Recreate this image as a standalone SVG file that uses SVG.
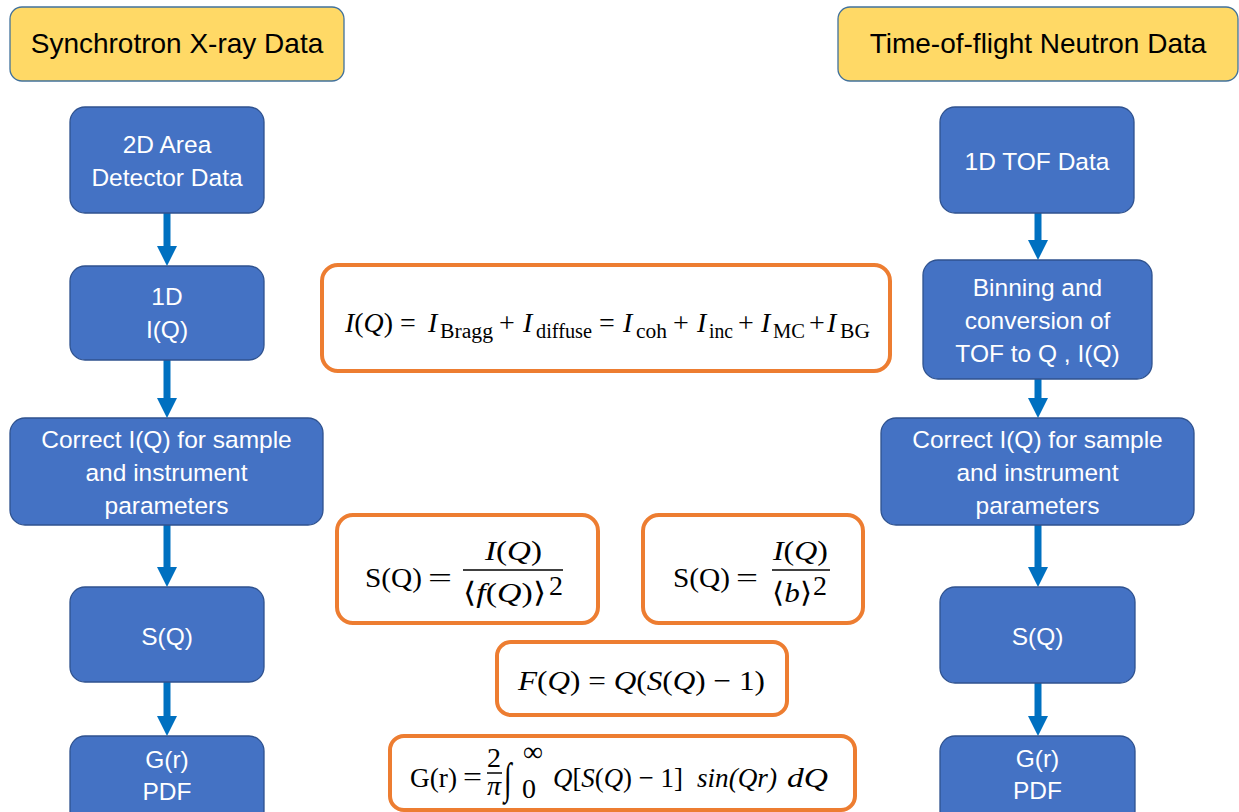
<svg xmlns="http://www.w3.org/2000/svg" width="1239" height="812" viewBox="0 0 1239 812">
<style>
.hdr{fill:#FFD966;stroke:#41719C;stroke-width:1.3}
.hdrt{font-family:"Liberation Sans",Arial,sans-serif;font-size:28px;fill:#000;text-anchor:middle}
.blk{fill:#4472C4;stroke:#2F528F;stroke-width:1.3}
.blkt{font-family:"Liberation Sans",Arial,sans-serif;font-size:24.5px;fill:#fff;text-anchor:middle}
.eq{fill:#fff;stroke:#ED7D31;stroke-width:4}
.m{font-family:"Liberation Serif","Times New Roman",serif;font-size:28px;fill:#000}
.sub{font-size:20.5px;font-style:normal}
.it{font-style:italic}
.bar{stroke:#000;stroke-width:1.5}
.conn{stroke:#0070C0;stroke-width:7;fill:none}
</style>
<defs>
<marker id="ah" viewBox="0 0 20 20" refX="10" refY="10" markerWidth="20" markerHeight="20" markerUnits="userSpaceOnUse" orient="auto">
<path d="M0,0 L20,10 L0,20 z" fill="#0070C0"/>
</marker>
</defs>

<g id="connectors">
<line class="conn" x1="167" y1="213" x2="167" y2="256" marker-end="url(#ah)"/>
<line class="conn" x1="167" y1="360" x2="167" y2="408" marker-end="url(#ah)"/>
<line class="conn" x1="167" y1="525" x2="167" y2="577" marker-end="url(#ah)"/>
<line class="conn" x1="167" y1="682" x2="167" y2="726" marker-end="url(#ah)"/>
<line class="conn" x1="1038" y1="213" x2="1038" y2="250" marker-end="url(#ah)"/>
<line class="conn" x1="1038" y1="379" x2="1038" y2="408" marker-end="url(#ah)"/>
<line class="conn" x1="1038" y1="525" x2="1038" y2="577" marker-end="url(#ah)"/>
<line class="conn" x1="1038" y1="683" x2="1038" y2="726" marker-end="url(#ah)"/>
</g>

<g id="hdr-xray">
<rect class="hdr" x="10" y="7" width="334" height="74" rx="12"/>
<text class="hdrt" x="177" y="53">Synchrotron X-ray Data</text>
</g>
<g id="hdr-neutron">
<rect class="hdr" x="838" y="7" width="400" height="74" rx="12"/>
<text class="hdrt" x="1038" y="53">Time-of-flight Neutron Data</text>
</g>

<g id="x-2d">
<rect class="blk" x="70" y="107" width="194" height="106" rx="15"/>
<text class="blkt" x="167" y="153">2D Area</text>
<text class="blkt" x="167" y="186">Detector Data</text>
</g>
<g id="x-1d">
<rect class="blk" x="70" y="266" width="194" height="94" rx="15"/>
<text class="blkt" x="167" y="305">1D</text>
<text class="blkt" x="167" y="338">I(Q)</text>
</g>
<g id="x-correct">
<rect class="blk" x="10" y="418" width="313" height="107" rx="15"/>
<text class="blkt" x="166.5" y="448">Correct I(Q) for sample</text>
<text class="blkt" x="166.5" y="481">and instrument</text>
<text class="blkt" x="166.5" y="514">parameters</text>
</g>
<g id="x-sq">
<rect class="blk" x="70" y="587" width="194" height="95" rx="15"/>
<text class="blkt" x="167" y="645">S(Q)</text>
</g>
<g id="x-gr">
<rect class="blk" x="70" y="736" width="194" height="90" rx="15"/>
<text class="blkt" x="167" y="768">G(r)</text>
<text class="blkt" x="167" y="800">PDF</text>
</g>

<g id="n-tof">
<rect class="blk" x="940" y="107" width="194" height="106" rx="15"/>
<text class="blkt" x="1037" y="170">1D TOF Data</text>
</g>
<g id="n-bin">
<rect class="blk" x="923" y="260" width="229" height="119" rx="15"/>
<text class="blkt" x="1037.5" y="296">Binning and</text>
<text class="blkt" x="1037.5" y="329">conversion of</text>
<text class="blkt" x="1037.5" y="362">TOF to Q , I(Q)</text>
</g>
<g id="n-correct">
<rect class="blk" x="881" y="418" width="313" height="107" rx="15"/>
<text class="blkt" x="1037.5" y="448">Correct I(Q) for sample</text>
<text class="blkt" x="1037.5" y="481">and instrument</text>
<text class="blkt" x="1037.5" y="514">parameters</text>
</g>
<g id="n-sq">
<rect class="blk" x="940" y="587" width="195" height="96" rx="15"/>
<text class="blkt" x="1037.5" y="645">S(Q)</text>
</g>
<g id="n-gr">
<rect class="blk" x="940" y="736" width="195" height="90" rx="15"/>
<text class="blkt" x="1037.5" y="767">G(r)</text>
<text class="blkt" x="1037.5" y="799">PDF</text>
</g>

<g id="eq-intensity">
<rect class="eq" x="322" y="265" width="568" height="106" rx="16"/>
<text class="m" x="345" y="332" textLength="48" lengthAdjust="spacingAndGlyphs"><tspan class="it">I</tspan>(<tspan class="it">Q</tspan>)</text>
<text class="m" x="400" y="332">=</text>
<text class="m it" x="428" y="332">I</text>
<text class="m sub" x="440" y="338" textLength="53" lengthAdjust="spacingAndGlyphs">Bragg</text>
<text class="m" x="499" y="332">+</text>
<text class="m it" x="523" y="332">I</text>
<text class="m sub" x="536" y="338" textLength="56" lengthAdjust="spacingAndGlyphs">diffuse</text>
<text class="m" x="599" y="332">=</text>
<text class="m it" x="623" y="332">I</text>
<text class="m sub" x="636" y="338" textLength="31" lengthAdjust="spacingAndGlyphs">coh</text>
<text class="m" x="673" y="332">+</text>
<text class="m it" x="697" y="332">I</text>
<text class="m sub" x="709" y="338" textLength="24" lengthAdjust="spacingAndGlyphs">inc</text>
<text class="m" x="738" y="332">+</text>
<text class="m it" x="761" y="332">I</text>
<text class="m sub" x="773" y="338" textLength="32" lengthAdjust="spacingAndGlyphs">MC</text>
<text class="m" x="809" y="332">+</text>
<text class="m it" x="827" y="332">I</text>
<text class="m sub" x="840" y="338" textLength="30" lengthAdjust="spacingAndGlyphs">BG</text>
</g>

<g id="eq-sq-xray">
<rect class="eq" x="337" y="515" width="261" height="108" rx="16"/>
<text class="m" x="365" y="587" font-size="29" textLength="57" lengthAdjust="spacingAndGlyphs">S(Q)</text>
<text class="m" x="428" y="587" font-size="32" textLength="24" lengthAdjust="spacingAndGlyphs">=</text>
<text class="m" x="485" y="560" font-size="29" textLength="57" lengthAdjust="spacingAndGlyphs"><tspan class="it">I</tspan>(<tspan class="it">Q</tspan>)</text>
<line class="bar" x1="463" y1="570" x2="563" y2="570"/>
<text class="m" x="463" y="602" font-size="29" textLength="83" lengthAdjust="spacingAndGlyphs">⟨<tspan class="it">f</tspan>(<tspan class="it">Q</tspan>)⟩</text>
<text class="m" x="549" y="595" font-size="19">2</text>
</g>

<g id="eq-sq-neutron">
<rect class="eq" x="643" y="515" width="220" height="108" rx="16"/>
<text class="m" x="673" y="587" font-size="29" textLength="57" lengthAdjust="spacingAndGlyphs">S(Q)</text>
<text class="m" x="736" y="587" font-size="32" textLength="22" lengthAdjust="spacingAndGlyphs">=</text>
<text class="m" x="773" y="560" font-size="29" textLength="55" lengthAdjust="spacingAndGlyphs"><tspan class="it">I</tspan>(<tspan class="it">Q</tspan>)</text>
<line class="bar" x1="772" y1="570" x2="830" y2="570"/>
<text class="m" x="772" y="602" font-size="29" textLength="40" lengthAdjust="spacingAndGlyphs">⟨<tspan class="it">b</tspan>⟩</text>
<text class="m" x="813" y="595" font-size="19">2</text>
</g>

<g id="eq-fq">
<rect class="eq" x="497" y="642" width="290" height="73" rx="14"/>
<text class="m" x="518" y="690" font-size="30" textLength="247" lengthAdjust="spacingAndGlyphs"><tspan class="it">F</tspan>(<tspan class="it">Q</tspan>) = <tspan class="it">Q</tspan>(<tspan class="it">S</tspan>(<tspan class="it">Q</tspan>) − 1)</text>
</g>

<g id="eq-gr">
<rect class="eq" x="390" y="736" width="465" height="74" rx="14"/>
<text class="m" x="410" y="787" textLength="47" lengthAdjust="spacingAndGlyphs">G(r)</text>
<text class="m" x="463" y="786" textLength="19" lengthAdjust="spacingAndGlyphs">=</text>
<text class="m" x="494" y="767" font-size="15" text-anchor="middle">2</text>
<line class="bar" x1="487" y1="773" x2="502" y2="773" stroke-width="1.2"/>
<text class="m it" x="494" y="795" font-size="18" text-anchor="middle">π</text>
<text class="m" font-size="30" transform="translate(504,793) scale(1,1.55)">∫</text>
<text class="m" x="522" y="798" font-size="16">0</text>
<text class="m" x="523" y="761" font-size="22">∞</text>
<text class="m" x="553" y="787" font-size="29" textLength="130" lengthAdjust="spacingAndGlyphs"><tspan class="it">Q</tspan>[<tspan class="it">S</tspan>(<tspan class="it">Q</tspan>) − 1]</text>
<text class="m it" x="697" y="787" font-size="29" textLength="80" lengthAdjust="spacingAndGlyphs">sin(Qr)</text>
<text class="m it" x="787" y="787" font-size="31" textLength="41" lengthAdjust="spacingAndGlyphs">dQ</text>
</g>
</svg>
